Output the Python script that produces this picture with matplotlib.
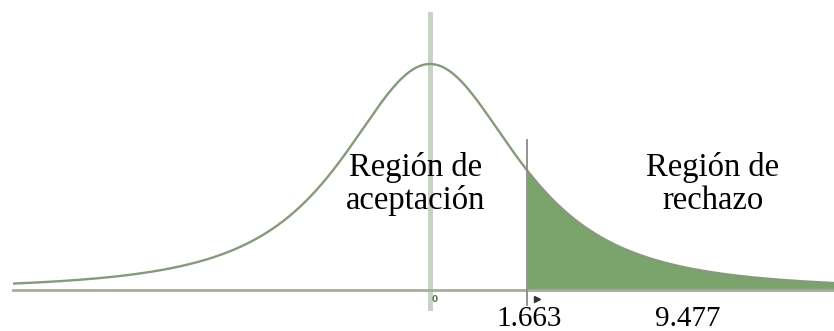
import numpy as np
import matplotlib
matplotlib.use("Agg")
import matplotlib.pyplot as plt
from math import gamma, sqrt, pi

# --- values -------------------------------------------------------------
critical_value = 1.663          # boundary of the rejection region
test_statistic_label = "9.477"  # observed statistic, written under the tail
df = 2                          # degrees of freedom of the drawn t curve
curve_scale = 1.62              # horizontal stretch of the curve
x_left, x_right = -7.15, 6.93   # extent of the curve
region_labels = ["Región de\naceptación", "Región de\nrechazo"]

# --- density ------------------------------------------------------------
def t_pdf(x, nu, scale):
    z = x / scale
    c = gamma((nu + 1) / 2) / (sqrt(nu * pi) * gamma(nu / 2))
    return c * (1 + z ** 2 / nu) ** (-(nu + 1) / 2) / scale

x = np.linspace(x_left, x_right, 1200)
y = t_pdf(x, df, curve_scale)
peak = t_pdf(0.0, df, curve_scale)

W, H = 834, 331
fig = plt.figure(figsize=(W / 100, H / 100), dpi=100)
ax = fig.add_axes([0, 0, 1, 1])
ax.set_axis_off()

# 58.33 px per unit, centre at 430 px; baseline at 290 px, peak 226 px above
ppu = 97 / critical_value
ax.set_xlim(-430 / ppu, (W - 430) / ppu)
ax.set_ylim(-(H - 290) / 226 * peak, 290 / 226 * peak)

curve_col = "#86997d"
fill_col = "#7aa46b"
axis_col = "#a4ae9e"
mean_col = "#c9d3c5"

# shaded rejection tail
mask = x >= critical_value
ax.fill_between(x[mask], 0, y[mask], color=fill_col, lw=0, zorder=2)

# horizontal axis and centre line
ax.axhline(0, xmin=13 / W, xmax=1, color=axis_col, lw=2.0, zorder=3)
ax.axvline(0, ymin=(H - 308) / H, ymax=(H - 14) / H, color=mean_col,
           lw=3.6, zorder=1)

# density curve
ax.plot(x, y, color=curve_col, lw=1.7, zorder=4, solid_capstyle="butt")

# critical value boundary
ax.axvline(critical_value, ymin=(H - 305) / H, ymax=(H - 140) / H,
           color="#8a8a8a", lw=1.3, zorder=5)

# small axis marks
ax.text(0.08, -(299 - 290) / 226 * peak, "0", fontsize=6.5, color="#5a7650",
        fontweight="bold", ha="center", va="center", zorder=6)
ax.plot([critical_value + 0.17], [-(298.5 - 290) / 226 * peak], marker=">",
        markersize=4.5, color="#333333", lw=0, zorder=6)

serif = "Liberation Serif"
# region labels
for cx, label in [(416, region_labels[0]), (713, region_labels[1])]:
    first, second = label.split("\n")
    fig.text(cx / W, 1 - 176 / H, first, fontsize=23.5, family=serif,
             ha="center", va="baseline")
    fig.text(cx / W, 1 - 209 / H, second, fontsize=23.5, family=serif,
             ha="center", va="baseline")

# numeric labels
fig.text(529 / W, 1 - 326.5 / H, f"{critical_value:.3f}", fontsize=21,
         family=serif, ha="center", va="baseline")
fig.text(688 / W, 1 - 326.5 / H, test_statistic_label, fontsize=21,
         family=serif, ha="center", va="baseline")

fig.savefig("out.png", dpi=100)
